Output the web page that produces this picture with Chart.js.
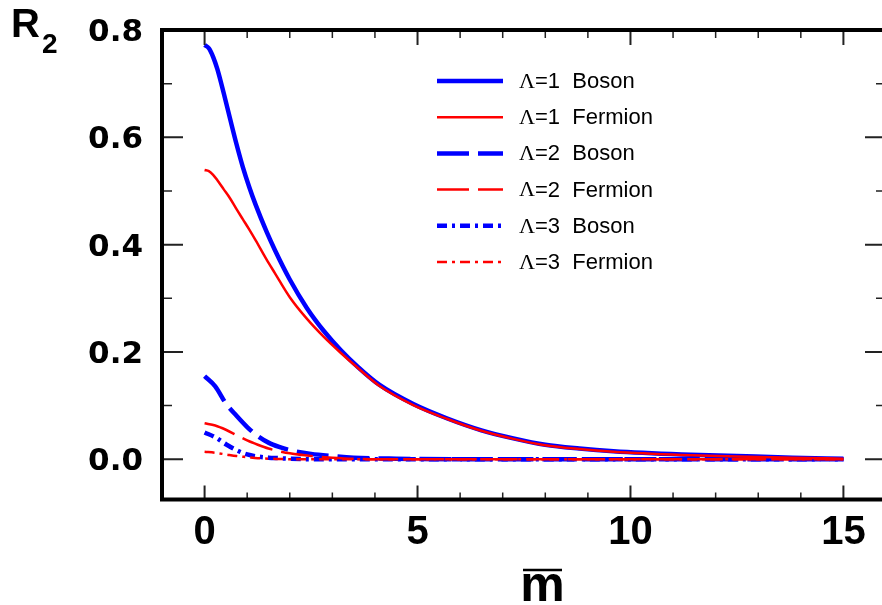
<!DOCTYPE html>
<html>
<head>
<meta charset="utf-8">
<script src="https://cdn.jsdelivr.net/npm/chart.js@4.4.1/dist/chart.umd.min.js"></script>
<style>
  html, body { margin: 0; padding: 0; background: #fff; }
  #wrap { width: 882px; height: 605px; overflow: hidden; }
</style>
</head>
<body>
<div id="wrap"><canvas id="chart" width="892" height="605"></canvas></div>
<script>
// m-bar values where the Lambda=1 curves were read
const mWide = [0, 0.1, 0.2, 0.3, 0.45, 0.6, 0.75, 0.9, 1.05, 1.2, 1.45, 1.65, 2.0, 2.4, 2.8, 3.2, 3.6, 4.1, 4.9, 5.7, 6.5, 7.25, 8.0, 8.8, 9.6, 11.2, 12.5, 13.8, 15];
const boson1   = [0.772, 0.766, 0.750, 0.727, 0.682, 0.634, 0.587, 0.544, 0.507, 0.474, 0.425, 0.390, 0.335, 0.282, 0.239, 0.203, 0.172, 0.139, 0.103, 0.076, 0.054, 0.039, 0.027, 0.020, 0.015, 0.009, 0.006, 0.003, 0.001];
const fermion1 = [0.539, 0.537, 0.530, 0.520, 0.503, 0.486, 0.466, 0.447, 0.428, 0.408, 0.373, 0.347, 0.302, 0.262, 0.228, 0.198, 0.170, 0.137, 0.101, 0.075, 0.053, 0.038, 0.026, 0.019, 0.014, 0.008, 0.005, 0.003, 0.001];

// m-bar values for the Lambda=2 and Lambda=3 curves
const mNarrow = [0, 0.25, 0.5, 0.75, 1.0, 1.25, 1.5, 1.75, 2.0, 2.5, 3.0, 3.5, 4.5, 6, 8, 10, 12, 15];
const boson2   = [0.155, 0.136, 0.104, 0.081, 0.060, 0.043, 0.031, 0.023, 0.017, 0.010, 0.006, 0.003, 0.001, 0, 0, 0, 0, 0];
const fermion2 = [0.067, 0.063, 0.055, 0.045, 0.035, 0.027, 0.020, 0.015, 0.011, 0.006, 0.003, 0.001, 0, 0, 0, 0, 0, 0];
const boson3   = [0.050, 0.041, 0.028, 0.017, 0.009, 0.005, 0.003, 0.002, 0.001, 0, 0, 0, 0, 0, 0, 0, 0, 0];
const fermion3 = [0.014, 0.012, 0.009, 0.006, 0.004, 0.002, 0.001, 0.0005, 0, 0, 0, 0, 0, 0, 0, 0, 0, 0];

const xTicks = [0, 5, 10, 15];
const yTicks = [0, 0.2, 0.4, 0.6, 0.8];
const labels = ['Λ=1  Boson', 'Λ=1  Fermion', 'Λ=2  Boson', 'Λ=2  Fermion', 'Λ=3  Boson', 'Λ=3  Fermion'];

const pts = (xs, ys) => xs.map((x, i) => ({ x: x, y: ys[i] }));

function series(label, xs, ys, color, width, dash, order) {
    return {
        label: label,
        data: pts(xs, ys),
        borderColor: color,
        borderWidth: width,
        borderDash: dash,
        borderCapStyle: 'butt',
        pointRadius: 0,
        cubicInterpolationMode: 'monotone',
        fill: false,
        order: order
    };
}

const BLUE = '#0000ff';
const RED = '#ff0000';

// frame and inward ticks like the original plot
const frameTicks = {
    id: 'frameTicks',
    afterDraw(chart) {
        const { ctx, chartArea: a, scales: { x, y } } = chart;
        ctx.save();
        ctx.strokeStyle = '#222';
        for (let v = 0; v <= 16; v++) {
            const px = x.getPixelForValue(v);
            const major = v % 5 === 0;
            ctx.lineWidth = major ? 2 : 1.5;
            ctx.beginPath();
            ctx.moveTo(px, a.bottom); ctx.lineTo(px, a.bottom - (major ? 14 : 7));
            ctx.moveTo(px, a.top); ctx.lineTo(px, a.top + (major ? 15 : 8));
            ctx.stroke();
        }
        for (let k = 0; k <= 8; k++) {
            const py = y.getPixelForValue(k / 10);
            const major = k % 2 === 0;
            ctx.lineWidth = major ? 2 : 1.5;
            ctx.beginPath();
            ctx.moveTo(a.left, py); ctx.lineTo(a.left + (major ? 21 : 10), py);
            ctx.moveTo(a.right, py); ctx.lineTo(a.right - (major ? 21 : 10), py);
            ctx.stroke();
        }
        ctx.strokeStyle = '#000';
        ctx.lineWidth = 4;
        ctx.strokeRect(a.left, a.top, a.right - a.left, a.bottom - a.top);
        ctx.restore();
    }
};

// legend inside the plot plus the two axis titles
const legendAndTitles = {
    id: 'legendAndTitles',
    afterDraw(chart) {
        const ctx = chart.ctx;
        ctx.save();
        labels.forEach((txt, i) => {
            const ds = chart.data.datasets[i];
            const yy = 81 + i * 36.2;
            ctx.strokeStyle = ds.borderColor;
            ctx.lineWidth = ds.borderWidth;
            ctx.lineCap = 'butt';
            ctx.setLineDash(ds.borderDash || []);
            ctx.beginPath();
            ctx.moveTo(437, yy); ctx.lineTo(503, yy);
            ctx.stroke();
            ctx.setLineDash([]);
            ctx.fillStyle = '#000';
            ctx.textBaseline = 'middle';
            ctx.textAlign = 'left';
            ctx.font = '22px "Liberation Serif", "Times New Roman", serif';
            ctx.fillText(txt[0], 519, yy + 1);
            const w = ctx.measureText(txt[0]).width;
            ctx.font = '22px "Liberation Sans", Arial, sans-serif';
            ctx.fillText(txt.slice(1), 519 + w, yy + 1);
        });

        ctx.textBaseline = 'alphabetic';
        ctx.fillStyle = '#000';
        ctx.font = 'bold 40px "Liberation Sans", Arial, sans-serif';
        ctx.fillText('R', 11, 37);
        ctx.font = 'bold 28px "Liberation Sans", Arial, sans-serif';
        ctx.fillText('2', 42, 53);

        ctx.font = 'bold 50px "Liberation Sans", Arial, sans-serif';
        ctx.textAlign = 'center';
        ctx.fillText('m', 542.5, 601);
        ctx.strokeStyle = '#000';
        ctx.lineWidth = 2.5;
        ctx.beginPath();
        ctx.moveTo(523, 570); ctx.lineTo(562, 570);
        ctx.stroke();
        ctx.restore();
    }
};

new Chart(document.getElementById('chart'), {
    type: 'line',
    data: {
        datasets: [
            series(labels[0], mWide, boson1, BLUE, 4.5, [], 1),
            series(labels[1], mWide, fermion1, RED, 2.5, [], 0),
            series(labels[2], mNarrow, boson2, BLUE, 4.5, [32, 9], 1),
            series(labels[3], mNarrow, fermion2, RED, 2.5, [32, 9], 0),
            series(labels[4], mNarrow, boson3, BLUE, 4.5, [10, 5, 3, 5], 1),
            series(labels[5], mNarrow, fermion3, RED, 2.5, [10, 5, 3, 5], 0)
        ]
    },
    options: {
        responsive: false,
        animation: false,
        devicePixelRatio: 1,
        layout: { padding: { top: 30, right: 6, left: 0, bottom: 0 } },
        plugins: { legend: { display: false }, tooltip: { enabled: false } },
        scales: {
            x: {
                type: 'linear',
                min: -1,
                max: 16,
                grid: { display: false, drawTicks: false },
                border: { display: false },
                afterBuildTicks: s => { s.ticks = xTicks.map(v => ({ value: v })); },
                afterFit: s => { s.height = 105.5; s.paddingLeft = 0; s.paddingRight = 0; },
                ticks: {
                    padding: 9,
                    color: '#000',
                    maxRotation: 0,
                    font: { family: '"Liberation Sans", Arial, sans-serif', size: 40, weight: 'bold' },
                    callback: v => String(v)
                }
            },
            y: {
                min: -0.075,
                max: 0.8,
                grid: { display: false, drawTicks: false },
                border: { display: false },
                afterBuildTicks: s => { s.ticks = yTicks.map(v => ({ value: v })); },
                afterFit: s => { s.width = 162; s.paddingTop = 0; s.paddingBottom = 0; },
                ticks: {
                    padding: 19,
                    labelOffset: 3,
                    color: '#000',
                    font: { family: '"DejaVu Sans", sans-serif', size: 31, weight: 'bold' },
                    callback: v => v.toFixed(1)
                }
            }
        }
    },
    plugins: [frameTicks, legendAndTitles]
});
</script>
</body>
</html>
